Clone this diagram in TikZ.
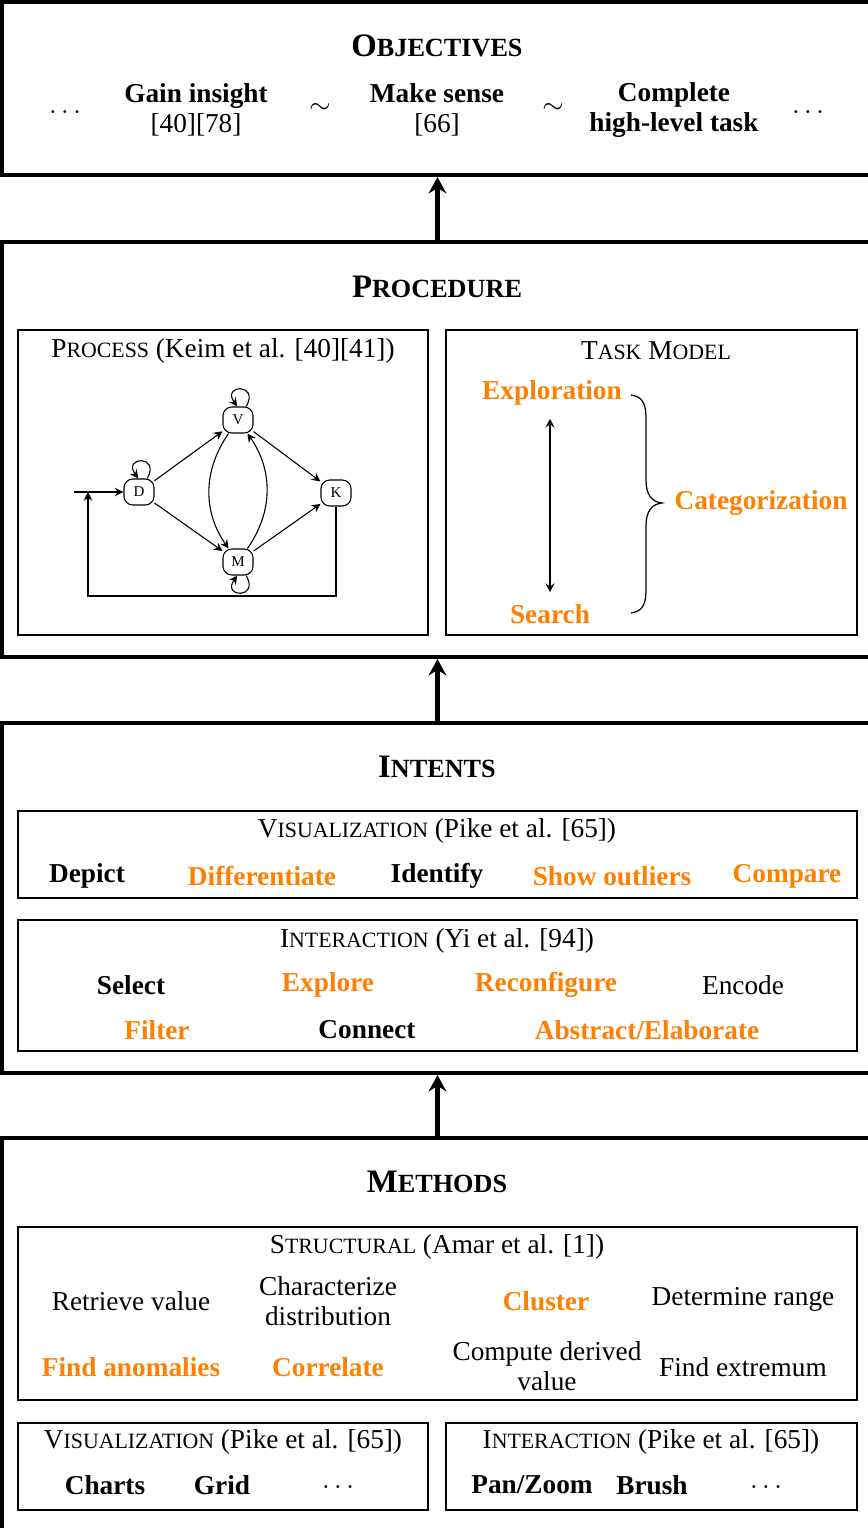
\documentclass[tikz,border=0pt]{standalone}
\usepackage{fontspec}
\setmainfont{Liberation Serif}
\usetikzlibrary{arrows.meta,fit,calc}
\definecolor{accent}{RGB}{255,128,0}
% fake small capitals: reduced upper-case letters
\newcommand{\tsc}[1]{{\fontsize{8}{9}\selectfont #1}}
\newcommand{\hsc}[1]{{\fontsize{9.6}{11}\selectfont #1}}

\begin{document}
\begin{tikzpicture}[x=0.3663pt,y=0.3663pt,
  layerbox/.style={draw,line width=1.47pt,inner sep=0pt},
  panelbox/.style={draw,line width=0.45pt,inner sep=0pt},
  boxtitle/.style={font=\fontsize{12}{14}\selectfont\bfseries},
  subtitle/.style={font=\fontsize{10}{11}\selectfont},
  plainitem/.style={font=\fontsize{10}{11}\selectfont,align=center},
  bolditem/.style={font=\fontsize{10}{11}\selectfont\bfseries,align=center},
  hotitem/.style={bolditem,text=accent},
  uparrow/.style={line width=1.47pt,-{Stealth[length=6pt,width=6.5pt,inset=2pt]}},
  gstate/.style={draw,rounded corners=3.2pt,minimum width=11pt,minimum height=9.5pt,
    inner sep=1pt,font=\fontsize{5.5}{6}\selectfont,line width=0.4pt},
  gedge/.style={line width=0.4pt,-{Stealth[length=3.2pt,width=3.2pt,inset=1.1pt]}},
  twoway/.style={line width=0.5pt,
    {Stealth[length=3.2pt,width=3.4pt,inset=1.2pt]}-{Stealth[length=3.2pt,width=3.4pt,inset=1.2pt]}}]

\useasboundingbox (0,0) rectangle (867,-1528);

% ---------- the four layers ----------
\node[layerbox, fit={(2,-2) (873,-175)}] (obj) {};
\node[layerbox, fit={(2,-242) (873,-657)}] (proc) {};
\node[layerbox, fit={(2,-723) (873,-1073)}] (intents) {};
\node[layerbox, fit={(2,-1138) (873,-1560)}] (methods) {};

\draw[uparrow] (proc.north) -- (obj.south);
\draw[uparrow] (intents.north) -- (proc.south);
\draw[uparrow] (methods.north) -- (intents.south);

% ---------- objectives ----------
\node[boxtitle] (objT) at (437,-46) {O\hsc{BJECTIVES}};
\node[plainitem, anchor=base] (dotsL) at (65,-113) {$\ldots$};
\node[bolditem] (gain) at (196,-110) {Gain insight\\\mdseries [40][78]};
\node[plainitem] (tilA) at (320,-108) {$\sim$};
\node[bolditem] (sense) at (437,-110) {Make sense\\\mdseries [66]};
\node[plainitem] (tilB) at (553,-108) {$\sim$};
\node[bolditem] (task) at (674,-110) {Complete\\high-level task};
\node[plainitem, anchor=base] (dotsR) at (808,-113) {$\ldots$};

% ---------- procedure ----------
\node[boxtitle] (procT) at (437,-287) {P\hsc{ROCEDURE}};
\node[panelbox, fit={(18,-330) (428,-635)}] (process) {};
\node[panelbox, fit={(446,-330) (857,-635)}] (taskmodel) {};

\node[subtitle] (processT) at (223,-351) {P\tsc{ROCESS} (Keim et al. [40][41])};
\node[subtitle] (taskT) at (656,-351) {T\tsc{ASK} M\tsc{ODEL}};

% process graph
\node[gstate] (D) at (139,-492) {D};
\node[gstate] (V) at (238,-420) {V};
\node[gstate] (K) at (336,-493) {K};
\node[gstate] (M) at (238,-562) {M};
\coordinate (entry) at (74,-492);
\coordinate (back) at (88,-596);
\coordinate (backEnd) at (88,-492);

\draw[gedge] (D) -- (V);
\draw[gedge] (D) -- (M);
\draw[gedge] (V) -- (K);
\draw[gedge] (M) -- (K);
\draw[gedge] (V) to[bend right=35] (M);
\draw[gedge] (M) to[bend right=35] (V);
\draw[gedge] ([xshift=3pt]V.north) to[out=60,in=125,min distance=10pt] ([xshift=-0.3pt]V.north);
\draw[gedge] ([xshift=3pt]D.north) to[out=60,in=125,min distance=10pt] ([xshift=-0.3pt]D.north);
\draw[gedge] ([xshift=3pt]M.south) to[out=-60,in=-125,min distance=10pt] ([xshift=-0.3pt]M.south);
\draw[gedge] (entry) -- (D);
\draw[gedge] (K.south) |- (back) -- (backEnd);

% task model
\node[hotitem] (expl) at (552,-393) {Exploration};
\node[hotitem] (srch) at (550,-614) {Search};
\node[hotitem] (categ) at (761,-503) {Categorization};
\draw[twoway, shorten <=1.4pt, shorten >=1pt] (expl.south -| srch.north) -- (srch.north);
\draw[line width=0.45pt] (631,-395) .. controls (644,-397) and (646,-405) .. (646,-420)
  -- (646,-480) .. controls (646,-495) and (652,-502) .. (662,-503)
  .. controls (652,-504) and (646,-511) .. (646,-526)
  -- (646,-588) .. controls (646,-603) and (644,-611) .. (631,-613);

% ---------- intents ----------
\node[boxtitle] (intT) at (437,-767) {I\hsc{NTENTS}};
\node[panelbox, fit={(18,-811) (857,-898)}] (intVis) {};
\node[panelbox, fit={(18,-920) (857,-1051)}] (intInt) {};

\node[subtitle] (intVisT) at (437,-831) {V\tsc{ISUALIZATION} (Pike et al. [65])};
\node[bolditem] (depict) at (87,-876) {Depict};
\node[hotitem] (diff) at (262,-876) {Differentiate};
\node[bolditem] (ident) at (437,-876) {Identify};
\node[hotitem] (outl) at (612,-876) {Show outliers};
\node[hotitem] (comp) at (787,-876) {Compare};

\node[subtitle] (intIntT) at (437,-941) {I\tsc{NTERACTION} (Yi et al. [94])};
\node[bolditem] (select) at (131,-985) {Select};
\node[hotitem] (explore) at (328,-985) {Explore};
\node[hotitem] (reconf) at (546,-985) {Reconfigure};
\node[plainitem] (encode) at (743,-985) {Encode};
\node[hotitem] (filter) at (157,-1030) {Filter};
\node[bolditem] (connect) at (367,-1030) {Connect};
\node[hotitem] (abstr) at (647,-1030) {Abstract/Elaborate};

% ---------- methods ----------
\node[boxtitle] (methT) at (437,-1182) {M\hsc{ETHODS}};
\node[panelbox, fit={(18,-1227) (857,-1400)}] (struct) {};
\node[panelbox, fit={(18,-1423) (428,-1510)}] (metVis) {};
\node[panelbox, fit={(446,-1423) (857,-1510)}] (metInt) {};

\node[subtitle] (structT) at (437,-1247) {S\tsc{TRUCTURAL} (Amar et al. [1])};
\node[plainitem] (retr) at (131,-1301) {Retrieve value};
\node[plainitem] (chara) at (328,-1301) {Characterize\\distribution};
\node[hotitem] (clust) at (546,-1301) {Cluster};
\node[plainitem] (range) at (743,-1299) {Determine range};
\node[hotitem] (anom) at (131,-1367) {Find anomalies};
\node[hotitem] (corr) at (328,-1367) {Correlate};
\node[plainitem] (derive) at (547,-1366) {Compute derived\\value};
\node[plainitem] (extr) at (743,-1367) {Find extremum};

\node[subtitle] (metVisT) at (223,-1442) {V\tsc{ISUALIZATION} (Pike et al. [65])};
\node[bolditem] (charts) at (105,-1485) {Charts};
\node[bolditem] (grid) at (222,-1485) {Grid};
\node[plainitem] (visDots) at (338,-1487) {$\ldots$};

\node[subtitle] (metIntT) at (651,-1442) {I\tsc{NTERACTION} (Pike et al. [65])};
\node[bolditem] (pan) at (532,-1485) {Pan/Zoom};
\node[bolditem] (brush) at (652,-1485) {Brush};
\node[plainitem] (intDots) at (766,-1487) {$\ldots$};
\end{tikzpicture}
\end{document}
